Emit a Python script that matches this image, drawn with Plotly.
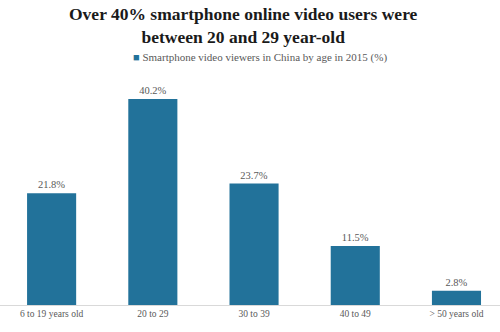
import plotly.graph_objects as go

categories = ["6 to 19 years old", "20 to 29", "30 to 39", "40 to 49", "> 50 years old"]
values = [21.8, 40.2, 23.7, 11.5, 2.8]
labels = ["21.8%", "40.2%", "23.7%", "11.5%", "2.8%"]

bar_color = "#22729a"
serif = "Liberation Serif, Times New Roman, serif"
T, PLOT_H = 95, 210

def ypix(px):
    return 1 + (T - px) / PLOT_H

fig = go.Figure(go.Bar(
    x=list(range(len(categories))), y=values, text=labels,
    textposition="outside", cliponaxis=False,
    textfont=dict(family=serif, size=10.5, color="#595959"),
    marker=dict(color=bar_color, line=dict(width=0)),
    width=0.485, showlegend=False,
))

fig.update_layout(
    width=500, height=332,
    margin=dict(l=0, r=0, t=T, b=27),
    paper_bgcolor="white", plot_bgcolor="white",
    xaxis=dict(
        range=[-0.51, 4.43], tickmode="array",
        tickvals=list(range(len(categories))), ticktext=categories,
        showgrid=False, showline=True, linecolor="#d9d9d9", linewidth=1,
        ticks="", tickfont=dict(family=serif, size=9.5, color="#595959"),
        zeroline=False,
    ),
    yaxis=dict(range=[0, 41], visible=False),
    annotations=[
        dict(
            text="<b>Over 40% smartphone online video users were<br>between 20 and 29 year-old</b>",
            x=243 / 500, y=ypix(25), xref="paper", yref="paper", showarrow=False,
            xanchor="center", yanchor="middle",
            font=dict(family=serif, size=17.5, color="#1a1a1a"),
        ),
        dict(
            text=f"<span style='color:{bar_color}'>■</span> Smartphone video viewers in China by age in 2015 (%)",
            x=0.52, y=ypix(58), xref="paper", yref="paper", showarrow=False,
            xanchor="center", yanchor="middle",
            font=dict(family=serif, size=11, color="#595959"),
        ),
    ],
)

fig.write_html("out.html")
